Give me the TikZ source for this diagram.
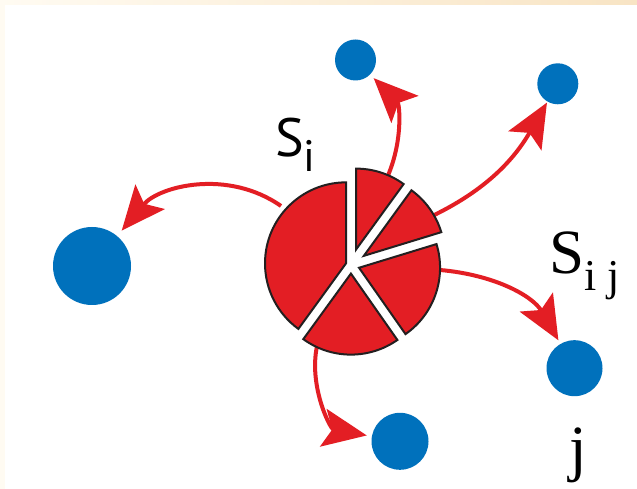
\documentclass[tikz,border=0pt]{standalone}
\usepackage{fontspec}
\setmainfont{Liberation Serif}
\newfontfamily\labelsans{PT Sans}
\usetikzlibrary{arrows.meta,calc}
\definecolor{pieRed}{HTML}{E31E24}
\definecolor{dotBlue}{HTML}{0071BC}
\definecolor{inkDark}{HTML}{231F20}
\definecolor{paperTint}{HTML}{F8E4C4}
\definecolor{paperPale}{HTML}{FFFBF2}

\begin{document}
\begin{tikzpicture}[x=1pt,y=1pt,
  dot/.style={circle, fill=dotBlue, draw=none, inner sep=0pt},
  slice/.style={fill=pieRed, draw=inkDark, line width=2pt},
  link/.style={draw=pieRed, line width=4pt,
    -{Stealth[length=44pt,width=38pt,inset=9pt]}},
  lbl/.style={inner sep=0pt},
]
\useasboundingbox (0,0) rectangle (637,489);
% paper
\fill[white] (0,0) rectangle (637,489);
\fill[paperPale] (0,0) rectangle (5,489);
\shade[left color=paperPale, right color=paperTint] (0,484) rectangle (637,489);

% centre of the exploded pie
\coordinate (O) at (351,224);

% target nodes
\node[dot, minimum size=41pt] (dTop) at (355.5,429) {};
\node[dot, minimum size=41pt] (dTR)  at (557.8,405.2) {};
\node[dot, minimum size=78pt] (dL)   at (92,223) {};
\node[dot, minimum size=57pt] (dB)   at (400,47.7) {};
\node[dot, minimum size=56pt] (dR)   at (574.5,120.8) {};

% start points of the flows on the pie rim
\coordinate (sTop) at (386,309);
\coordinate (sTR)  at (428,271);
\coordinate (sL)   at (281,283);
\coordinate (sB)   at (318,147);
\coordinate (sR)   at (440,219);

% flows
\draw[link, shorten >=5pt] (sTop) to[out=65,in=-45] (dTop);
\draw[link, shorten >=1pt] (sTR) to[out=25,in=240] (dTR);
\draw[link, shorten >=7pt] (sL) to[out=145,in=50] (dL);
\draw[link, shorten >=5pt] (sB) to[out=255,in=170] (dB);
\draw[link, shorten >=4pt] (sR) to[out=-5,in=120] (dR);

% pie slices, each pushed out along its bisector
\foreach \a/\b/\d in {90/234/5.26, 234/305/8.61, 305/377/8.51, 17/54/15.76, 54/90/16.18}{
  \pgfmathsetmacro\m{(\a+\b)/2}
  \filldraw[slice] ([shift={(\m:\d)}]O) -- ++(\a:81)
    arc[start angle=\a, end angle=\b, radius=81] -- cycle;
}

% labels
\node[lbl, anchor=base west] (lblSi) at (275,332)
  {\labelsans\fontsize{54}{54}\selectfont S\raisebox{-15pt}{\fontsize{44}{44}\selectfont i}};
\node[lbl, anchor=base west] (lblSij) at (549,215.7)
  {\fontsize{63}{63}\selectfont S\raisebox{-17pt}{\fontsize{44}{44}\selectfont i j}};
\node[lbl, anchor=base] (lblj) at (578,19.3)
  {\fontsize{63}{63}\selectfont j};
\end{tikzpicture}
\end{document}
